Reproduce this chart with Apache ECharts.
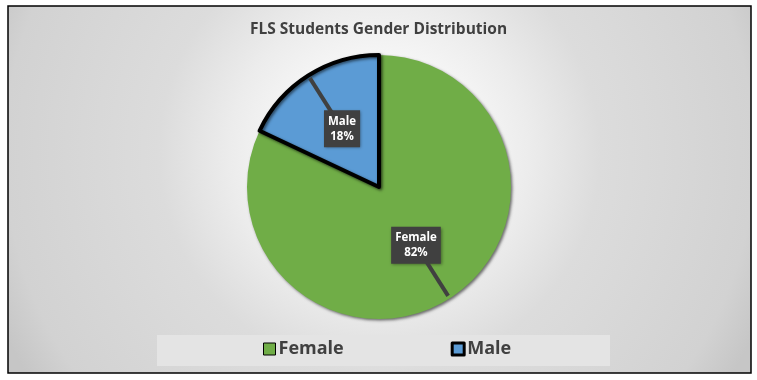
<!DOCTYPE html>
<html>
<head>
<meta charset="utf-8">
<script src="https://cdn.jsdelivr.net/npm/echarts@6/dist/echarts.min.js"></script>
<style>
html,body{margin:0;padding:0;background:#fff;}
#chart{width:757px;height:380px;}
</style>
</head>
<body>
<div id="chart"></div>
<script>
var titleText = 'FLS Students Gender Distribution';
var categories = ['Female', 'Male'];
var values = [82, 18];
var colors = ['#70AD47', '#5B9BD5'];

var chart = echarts.init(document.getElementById('chart'), null, {renderer: 'canvas'});

var data = categories.map(function (c, i) {
  var item = {name: c, value: values[i], itemStyle: {color: colors[i]}};
  if (c === 'Male') {
    item.itemStyle.borderColor = '#000';
    item.itemStyle.borderWidth = 4;
  }
  return item;
});

// helper series: transparent sectors whose label lines form the callout pointers
var pointerData = categories.map(function (c, i) {
  return {name: c, value: values[i]};
});

var option = {
  animation: false,
  graphic: [{
    type: 'rect',
    z: -10,
    silent: true,
    shape: {x: 8, y: 6, width: 743, height: 367},
    style: {
      fill: {
        type: 'radial', x: 0.5, y: 0.4, r: 1.13,
        colorStops: [
          {offset: 0, color: '#ffffff'},
          {offset: 0.2, color: '#f8f8f8'},
          {offset: 0.36, color: '#ececec'},
          {offset: 0.53, color: '#dcdcdc'},
          {offset: 0.9, color: '#d2d2d2'},
          {offset: 1, color: '#c6c6c6'}
        ],
        global: false
      },
      stroke: '#000',
      lineWidth: 1.5
    }
  }, {
    type: 'rect',
    z: -5,
    silent: true,
    shape: {x: 157, y: 335, width: 453, height: 31},
    style: {fill: '#e4e4e4'}
  }],
  title: {
    text: titleText,
    left: 'center',
    top: 17,
    textStyle: {
      fontFamily: 'Open Sans',
      fontWeight: 'bold',
      fontSize: 15.5,
      color: '#404040'
    }
  },
  legend: {
    data: [
      {name: 'Female', itemStyle: {borderColor: '#000', borderWidth: 1}},
      {name: 'Male', itemStyle: {borderColor: '#000', borderWidth: 3}}
    ],
    left: 263,
    top: 340,
    padding: 0,
    itemGap: 107,
    itemWidth: 12,
    itemHeight: 12,
    icon: 'rect',
    itemStyle: {borderColor: '#000', borderWidth: 1},
    textStyle: {
      fontFamily: 'Open Sans',
      fontWeight: 'bold',
      fontSize: 18,
      color: '#404040',
      padding: [0, 0, 0, -2]
    }
  },
  series: [{
    type: 'pie',
    name: 'gender',
    center: [379, 187],
    radius: [0, 132],
    startAngle: 90,
    clockwise: true,
    avoidLabelOverlap: false,
    itemStyle: {
      shadowBlur: 3,
      shadowOffsetX: 1.5,
      shadowOffsetY: 1.5,
      shadowColor: 'rgba(0,0,0,0.55)'
    },
    label: {
      show: true,
      position: 'inside',
      formatter: '{b}\n{d}%',
      color: '#fff',
      fontFamily: 'Open Sans',
      fontWeight: 'bold',
      fontSize: 11.5,
      lineHeight: 15,
      backgroundColor: '#404040',
      padding: [4, 4, 3, 4],
      shadowBlur: 3,
      shadowColor: 'rgba(0,0,0,0.4)',
      shadowOffsetX: 1,
      shadowOffsetY: 1
    },
    labelLine: {show: false},
    data: data
  }, {
    type: 'pie',
    name: 'pointers',
    z: 3,
    silent: true,
    center: [379, 187],
    radius: [0, 86],
    startAngle: 90,
    clockwise: true,
    avoidLabelOverlap: false,
    emphasis: {disabled: true},
    itemStyle: {color: 'rgba(0,0,0,0)', borderWidth: 0},
    label: {
      show: true,
      position: 'outside',
      formatter: ' ',
      fontSize: 1,
      color: 'rgba(0,0,0,0)'
    },
    labelLine: {
      show: true,
      showAbove: true,
      length: 43,
      length2: 0,
      smooth: false,
      lineStyle: {color: '#404040', width: 4}
    },
    data: pointerData
  }]
};
chart.setOption(option);
</script>
</body>
</html>
